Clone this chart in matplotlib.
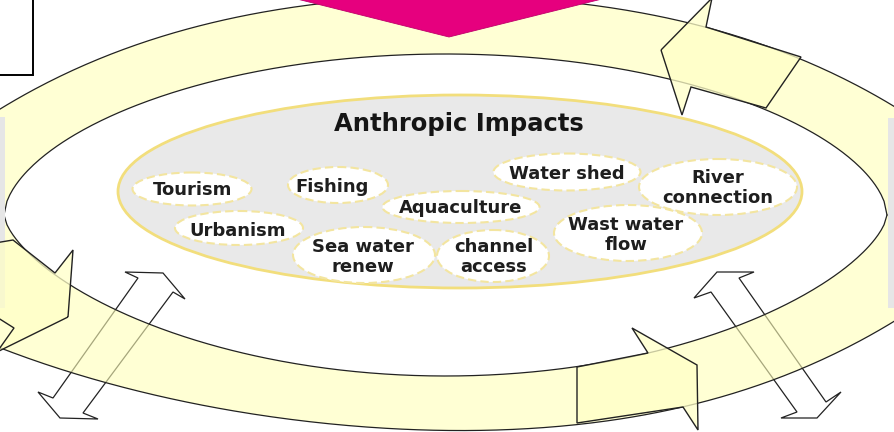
import numpy as np
import matplotlib
matplotlib.use("Agg")
import matplotlib.pyplot as plt
from matplotlib.patches import Polygon, Ellipse, Rectangle, PathPatch
from matplotlib.path import Path

# labels of the small bubbles inside "Anthropic Impacts"
labels = ["Tourism", "Fishing", "Aquaculture", "Water shed", "River\nconnection",
          "Urbanism", "Sea water\nrenew", "channel\naccess", "Wast water\nflow"]
title = "Anthropic Impacts"

# bubble layout (pixel coords, y down)
bub_x = [192, 338, 461, 567, 718, 239, 364, 493, 628]
bub_y = [189, 185, 207, 172, 187, 228, 255, 256, 233]
bub_w = [119, 100, 157, 147, 158, 128, 142, 112, 148]
bub_h = [33, 36, 32, 37, 56, 34, 56, 52, 56]
txt_x = [193, 332, 461, 567, 718, 238, 363, 494, 626]
txt_y = [190, 187, 208, 174, 188, 231, 257, 257, 235]

# outer edge of the ring
outer_top = [(0, 110), (50, 80), (100, 58), (150, 40), (250, 17), (300, 6),
             (450, -6), (597, 5), (650, 15), (677, 23), (801, 57), (894, 107)]
outer_bot = [(894, 322), (777, 377), (697, 403), (577, 427), (444, 431),
             (367, 425), (233, 410), (100, 383), (0, 347)]


def fit_curve(pts, x0=-25, x1=920, deg=4):
    p = np.array(pts, float)
    c = np.polyfit(p[:, 0], p[:, 1], deg)
    x = np.linspace(x0, x1, 300)
    return np.column_stack([x, np.polyval(c, x)])


def lens_arc(sign, depth, power, xl=4, xr=887, yc=215, n=300):
    # pointed arc between the two tips of the inner opening
    xc = (xl + xr) / 2
    a = (xr - xl) / 2
    x = np.linspace(xl, xr, n)
    u = np.clip(1 - ((x - xc) / a) ** 2, 0, 1)
    return np.column_stack([x, yc + sign * depth * u ** power])


fig = plt.figure(figsize=(8.94, 4.32), dpi=100)
ax = fig.add_axes([0, 0, 1, 1])
ax.set_xlim(0, 894)
ax.set_ylim(432, 0)
ax.axis("off")

# hollow double arrows (behind the ring)
dbl_left = [(138, 278), (125, 272), (163, 273), (185, 299), (173, 292), (83, 413),
            (98, 419), (60, 418), (38, 392), (53, 398)]
dbl_right = [(711, 292), (694, 298), (717, 272), (754, 272), (739, 278), (826, 402),
             (841, 392), (817, 418), (781, 418), (797, 412)]
for pts in (dbl_left, dbl_right):
    ax.add_patch(Polygon(pts, closed=True, fc="white", ec="#222222", lw=0.9, zorder=1))

# ring band with the lens-shaped hole
ot = fit_curve(outer_top)
ob = fit_curve(outer_bot)[::-1]
lt = lens_arc(-1, 161, 0.57)
lb = lens_arc(1, 161, 0.65)
outer = np.vstack([ot, ob])
lens = np.vstack([lt, lb[::-1]])[::-1]
verts = np.vstack([outer, outer[:1], lens, lens[:1]])
codes = ([Path.MOVETO] + [Path.LINETO] * (len(outer) - 1) + [Path.CLOSEPOLY]
         + [Path.MOVETO] + [Path.LINETO] * (len(lens) - 1) + [Path.CLOSEPOLY])
ax.add_patch(PathPatch(Path(verts, codes), fc=(1, 1, 0.72), alpha=0.6, ec="none", zorder=2))
for c in (ot, ob, lt, lb):
    ax.plot(c[:, 0], c[:, 1], color="#222222", lw=0.9, zorder=3)

# grey strips at the sides
ax.add_patch(Rectangle((0, 117), 5, 191, fc="#e6e6e6", ec="none", zorder=3.5))
ax.add_patch(Rectangle((888, 118), 6, 190, fc="#e6e6e6", ec="none", zorder=3.5))

# block arrows on the ring
arr_top = [(661, 50), (712, -2), (706, 27), (801, 57), (766, 108), (691, 87), (682, 115)]
arr_left = [(68, 317), (-3, 352), (14, 328), (-5, 316), (-5, 243), (13, 240), (55, 273), (73, 250)]
arr_bot = [(577, 367), (648, 353), (632, 328), (697, 365), (698, 430), (683, 407), (577, 423)]
for pts in (arr_top, arr_left, arr_bot):
    ax.add_patch(Polygon(pts, closed=True, fc=(1, 1, 0.78), alpha=0.75, ec="none", zorder=4))
    ax.add_patch(Polygon(pts, closed=True, fc="none", ec="#222222", lw=1.0, zorder=4.2))

# magenta arrow tip at the top
ax.add_patch(Polygon([(293, -2), (449, 37), (606, -2)], closed=True,
                     fc="#e6007e", ec="#c0006a", lw=0.6, zorder=5))

# box in the top left corner
ax.add_patch(Rectangle((-3, -3), 36, 78, fc="white", ec="black", lw=1.4, zorder=5))

# central grey ellipse
ax.add_patch(Ellipse((460, 191.5), 684, 193, fc="#e9e9e9", ec="#f2de7c", lw=2, zorder=6))
ax.text(459, 124, title, fontsize=17.5, fontweight="bold", color="#151515",
        ha="center", va="center", zorder=8)

for lab, x, y, w, h, tx, ty in zip(labels, bub_x, bub_y, bub_w, bub_h, txt_x, txt_y):
    ax.add_patch(Ellipse((x, y), w, h, fc="white", ec="#f3e5a0", lw=1.5,
                         ls=(0, (4, 2)), zorder=7))
    ax.text(tx, ty, lab, fontsize=13, fontweight="bold", color="#1e1e1e",
            ha="center", va="center", linespacing=1.15, zorder=8)

fig.savefig("out.png", dpi=100)
